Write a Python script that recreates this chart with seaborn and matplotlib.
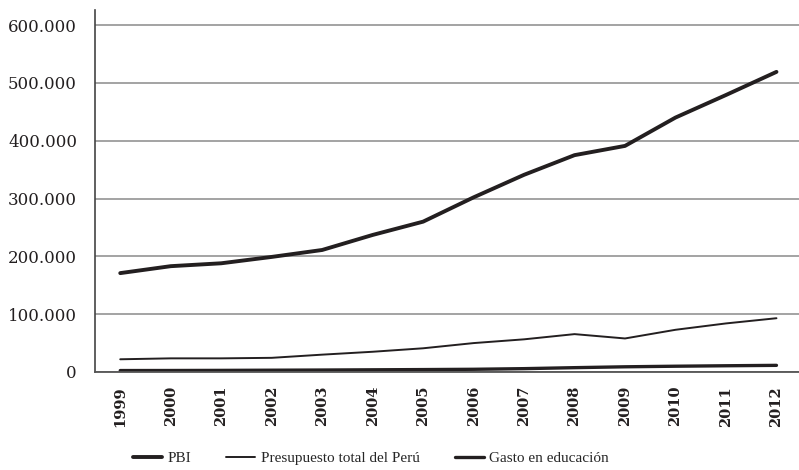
import numpy as np
import pandas as pd
import matplotlib
matplotlib.use("Agg")
import matplotlib.pyplot as plt
import seaborn as sns

years = ['1999', '2000', '2001', '2002', '2003', '2004', '2005',
         '2006', '2007', '2008', '2009', '2010', '2011', '2012']
pbi = [171000, 183000, 188000, 199000, 211000, 237000, 260000,
       302000, 341000, 375000, 391000, 440000, 479000, 519000]
presupuesto = [22000, 23600, 23600, 24500, 30000, 35000, 41000,
               50000, 56500, 65500, 58000, 73000, 84000, 93000]
educacion = [2500, 2600, 2800, 3100, 3400, 3800, 4200,
             4700, 5800, 7500, 9000, 10000, 10800, 11500]

sns.set_style("white")
plt.rcParams['font.family'] = ['DejaVu Serif']

df = pd.DataFrame({'idx': np.arange(len(years)), 'PBI': pbi,
                   'Presupuesto total del Perú': presupuesto,
                   'Gasto en educación': educacion})

fig = plt.figure(figsize=(7.99, 4.70), dpi=100)
ax = fig.add_axes([95 / 799, 98 / 470, 706.7 / 799, 362 / 470])

sns.lineplot(data=df, x='idx', y='PBI', ax=ax, color='#231f20', lw=2.8, label='PBI')
sns.lineplot(data=df, x='idx', y='Presupuesto total del Perú', ax=ax, color='#231f20',
             lw=1.4, label='Presupuesto total del Perú')
sns.lineplot(data=df, x='idx', y='Gasto en educación', ax=ax, color='#231f20',
             lw=2.4, label='Gasto en educación')

ax.set_xlim(-0.5, 13.5)
ax.set_ylim(0, 626000)
ax.set_yticks(range(0, 600001, 100000))
ax.set_yticklabels(['0' if v == 0 else f'{v // 1000}.000' for v in range(0, 600001, 100000)],
                   fontsize=12, color='#231f20')
ax.yaxis.grid(True, color='#8a8a8a', lw=1.1)
ax.set_axisbelow(True)

# category ticks between years, labels centered
ax.set_xticks(np.arange(-0.5, 13.6, 1))
ax.set_xticklabels([])
ax.set_xticks(np.arange(len(years)), minor=True)
ax.set_xticklabels(years, minor=True, rotation=90, fontsize=10.5, fontweight='bold', color='#231f20')
ax.tick_params(axis='x', which='minor', length=0, pad=10)
ax.tick_params(axis='x', which='major', direction='out', length=8, width=2, color='#231f20')
ax.tick_params(axis='y', direction='out', length=10, width=2, color='#231f20', pad=3)

ax.set_xlabel('')
ax.set_ylabel('')
for s in ['top', 'right']:
    ax.spines[s].set_visible(False)
ax.spines['left'].set_color('#444444')
ax.spines['left'].set_linewidth(1.2)
ax.spines['bottom'].set_color('#555555')
ax.spines['bottom'].set_linewidth(1.3)

ax.legend_.remove()
h, l = ax.get_legend_handles_labels()
fig.legend(h, l, loc='center', bbox_to_anchor=(371 / 799, 12 / 470), ncol=3, frameon=False,
           prop={'family': 'Liberation Serif', 'size': 11}, handlelength=1.9,
           handletextpad=0.35, columnspacing=2.3)

fig.savefig('out.png', dpi=100)
